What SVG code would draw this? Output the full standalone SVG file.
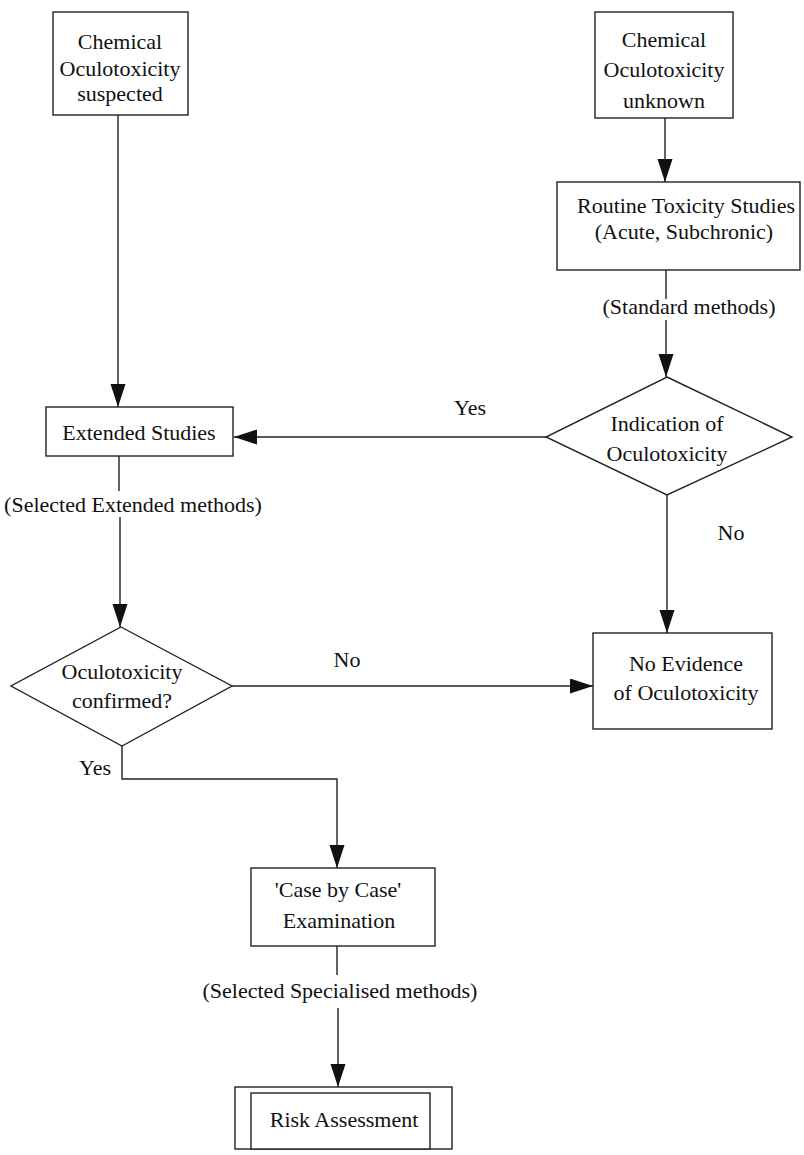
<svg xmlns="http://www.w3.org/2000/svg" width="804" height="1155" viewBox="0 0 804 1155">
  <style>
    .box { fill: #fff; stroke: #222; stroke-width: 1.4; }
    .line { fill: none; stroke: #222; stroke-width: 1.4; }
    text { font-family: "Liberation Serif", "Times New Roman", serif; font-size: 22px; fill: #111; text-anchor: middle; }
  </style>
  <defs>
    <marker id="arrow" markerUnits="userSpaceOnUse" markerWidth="24" markerHeight="16" refX="23" refY="7.5" orient="auto">
      <path d="M0,0 L23,7.5 L0,15 z" fill="#111"/>
    </marker>
  </defs>
  <rect width="804" height="1155" fill="#fff"/>

  <!-- connectors and their labels -->
  <g id="connectors">
    <line class="line" x1="118" y1="115" x2="118" y2="407" marker-end="url(#arrow)"/>
    <line class="line" x1="665" y1="118" x2="665" y2="182" marker-end="url(#arrow)"/>
    <line class="line" x1="666" y1="270" x2="666" y2="299"/>
    <line class="line" x1="666" y1="320" x2="666" y2="377" marker-end="url(#arrow)"/>
    <line class="line" x1="546" y1="437" x2="234" y2="437" marker-end="url(#arrow)"/>
    <line class="line" x1="667" y1="495" x2="667" y2="633" marker-end="url(#arrow)"/>
    <line class="line" x1="119" y1="456" x2="119" y2="491"/>
    <line class="line" x1="120" y1="517" x2="120" y2="627" marker-end="url(#arrow)"/>
    <line class="line" x1="232" y1="686" x2="593" y2="686" marker-end="url(#arrow)"/>
    <polyline class="line" points="122,746 122,779 337,779 337,868" marker-end="url(#arrow)"/>
    <line class="line" x1="337" y1="946" x2="337" y2="975"/>
    <line class="line" x1="338" y1="1008" x2="338" y2="1087" marker-end="url(#arrow)"/>
    <text x="470" y="415">Yes</text>
    <text x="731" y="540">No</text>
    <text x="347" y="667">No</text>
    <text x="95" y="775">Yes</text>
    <text x="689" y="314">(Standard methods)</text>
    <text x="133" y="512">(Selected Extended methods)</text>
    <text x="340" y="998">(Selected Specialised methods)</text>
  </g>

  <g id="suspected">
    <rect class="box" x="53" y="12" width="135" height="103"/>
    <text x="120" y="49">Chemical</text>
    <text x="120" y="76">Oculotoxicity</text>
    <text x="120" y="101">suspected</text>
  </g>

  <g id="unknown">
    <rect class="box" x="595" y="12" width="138" height="106"/>
    <text x="664" y="47">Chemical</text>
    <text x="664" y="77">Oculotoxicity</text>
    <text x="664" y="108">unknown</text>
  </g>

  <g id="routine">
    <rect class="box" x="557" y="182" width="243" height="88"/>
    <text x="686" y="213">Routine Toxicity Studies</text>
    <text x="684" y="239">(Acute, Subchronic)</text>
  </g>

  <g id="indication">
    <polygon class="box" points="667,377 792,437 667,495 546,437"/>
    <text x="667" y="431">Indication  of</text>
    <text x="667" y="461">Oculotoxicity</text>
  </g>

  <g id="extended">
    <rect class="box" x="46" y="407" width="187" height="49"/>
    <text x="139" y="440">Extended Studies</text>
  </g>

  <g id="confirmed">
    <polygon class="box" points="121,627 232,686 122,746 11,686"/>
    <text x="122" y="679">Oculotoxicity</text>
    <text x="122" y="708">confirmed?</text>
  </g>

  <g id="no-evidence">
    <rect class="box" x="593" y="633" width="179" height="96"/>
    <text x="686" y="671">No Evidence</text>
    <text x="686" y="700">of Oculotoxicity</text>
  </g>

  <g id="case-by-case">
    <rect class="box" x="251" y="868" width="184" height="78"/>
    <text x="338" y="897">'Case by Case'</text>
    <text x="339" y="928">Examination</text>
  </g>

  <g id="risk">
    <rect class="box" x="235" y="1087" width="217" height="62"/>
    <rect class="box" x="251" y="1093" width="179" height="56"/>
    <text x="344" y="1127">Risk Assessment</text>
  </g>
</svg>
